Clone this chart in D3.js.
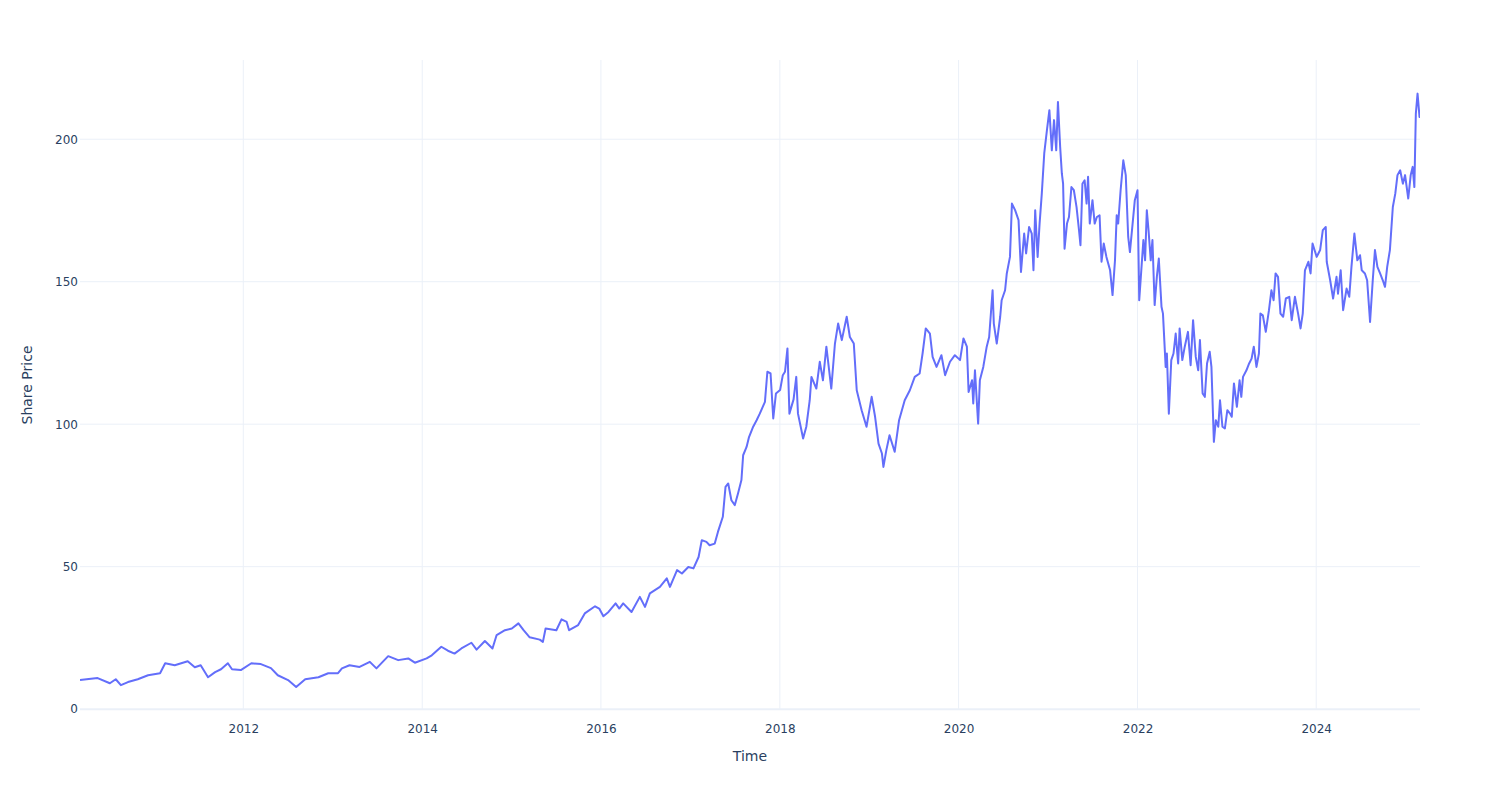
<!DOCTYPE html>
<html>
<head>
<meta charset="utf-8">
<script src="https://cdn.jsdelivr.net/npm/d3@7"></script>
<style>
  html, body { margin: 0; padding: 0; background: #fff; }
  svg { display: block; }
  text { font-family: "DejaVu Sans", "Open Sans", verdana, arial, sans-serif; }
</style>
</head>
<body>
<svg id="chart" width="1500" height="800"></svg>
<script>
// ---- Data ----
const dates = [
"2010-03-05","2010-04-10","2010-05-16","2010-07-05","2010-07-29","2010-08-19","2010-09-17","2010-10-27","2010-12-08",
"2011-01-26","2011-02-16","2011-03-27","2011-05-19","2011-06-17","2011-07-11","2011-08-10","2011-09-08","2011-10-02","2011-10-30","2011-11-16","2011-12-22",
"2012-02-03","2012-03-13","2012-04-23","2012-05-21","2012-07-02","2012-08-04","2012-09-10","2012-11-03","2012-12-13",
"2013-01-22","2013-02-07","2013-03-10","2013-04-20","2013-06-01","2013-06-28","2013-08-15","2013-09-25","2013-11-05","2013-12-02",
"2014-01-19","2014-02-09","2014-03-20","2014-04-16","2014-05-13","2014-06-10","2014-07-21","2014-08-11","2014-09-14","2014-10-15","2014-11-01","2014-12-05",
"2015-01-02","2015-01-29","2015-02-19","2015-03-16","2015-04-26","2015-05-09","2015-05-20","2015-07-03","2015-07-24","2015-08-14","2015-08-24","2015-09-30","2015-10-27","2015-12-08","2015-12-25",
"2016-01-11","2016-02-01","2016-03-01","2016-03-16","2016-04-01","2016-05-05","2016-06-08","2016-06-29","2016-07-19","2016-08-29","2016-09-26","2016-10-09","2016-11-07","2016-11-27","2016-12-23",
"2017-01-13","2017-02-03","2017-02-16","2017-03-07","2017-03-20","2017-04-10","2017-04-23","2017-05-13","2017-05-24","2017-06-04","2017-06-17","2017-07-01","2017-07-14","2017-07-28","2017-08-04","2017-08-18","2017-08-28","2017-09-14","2017-09-28","2017-10-11","2017-11-01","2017-11-11","2017-11-24","2017-12-05","2017-12-16",
"2018-01-02","2018-01-13","2018-01-22","2018-02-01","2018-02-09","2018-02-26","2018-03-09","2018-03-16","2018-04-06","2018-04-19","2018-05-03","2018-05-10","2018-05-30","2018-06-13","2018-06-26","2018-07-10","2018-07-30","2018-08-14","2018-08-27","2018-09-11","2018-10-01","2018-10-14","2018-10-30","2018-11-11","2018-12-01","2018-12-21",
"2019-01-11","2019-01-25","2019-02-08","2019-02-22","2019-02-28","2019-03-12","2019-03-25","2019-04-15","2019-05-03","2019-05-26","2019-06-16","2019-07-06","2019-07-26","2019-08-07","2019-08-20","2019-09-06","2019-09-17","2019-10-03","2019-10-23","2019-11-07","2019-11-27","2019-12-17",
"2020-01-01","2020-01-07","2020-01-21","2020-02-04","2020-02-11","2020-02-25","2020-03-01","2020-03-08","2020-03-21","2020-03-28","2020-04-11","2020-04-25","2020-05-05","2020-05-19","2020-05-24","2020-06-05","2020-06-19","2020-06-25","2020-07-09","2020-07-16","2020-07-29","2020-08-06","2020-08-19","2020-09-02","2020-09-12","2020-09-25","2020-10-03","2020-10-15","2020-10-26","2020-11-02","2020-11-09","2020-11-19","2020-11-27","2020-12-06","2020-12-16","2020-12-27",
"2021-01-06","2021-01-16","2021-01-25","2021-02-03","2021-02-10","2021-02-19","2021-02-26","2021-03-03","2021-03-09","2021-03-19","2021-03-27","2021-04-06","2021-04-16","2021-04-27","2021-05-07","2021-05-13","2021-05-21","2021-05-30","2021-06-07","2021-06-13","2021-06-20","2021-07-01","2021-07-10","2021-07-19","2021-07-30","2021-08-07","2021-08-16","2021-08-27","2021-09-11","2021-09-21","2021-10-01","2021-10-08","2021-10-14","2021-10-24","2021-11-04","2021-11-14","2021-11-24","2021-12-01","2021-12-12","2021-12-21",
"2022-01-01","2022-01-08","2022-01-25","2022-02-01","2022-02-08","2022-02-15","2022-02-24","2022-03-03","2022-03-12","2022-03-21","2022-03-29","2022-04-09","2022-04-15","2022-04-26","2022-05-01","2022-05-09","2022-05-19","2022-05-28","2022-06-06","2022-06-16","2022-06-22","2022-07-03","2022-07-13","2022-07-26","2022-08-06","2022-08-16","2022-08-27","2022-09-06","2022-09-13","2022-09-24","2022-10-03","2022-10-12","2022-10-23","2022-10-30","2022-11-09","2022-11-17","2022-11-27","2022-12-04","2022-12-14","2022-12-24",
"2023-01-03","2023-01-14","2023-01-21","2023-01-30","2023-02-11","2023-02-22","2023-03-01","2023-03-08","2023-03-22","2023-04-02","2023-04-12","2023-04-21","2023-05-02","2023-05-12","2023-05-18","2023-05-28","2023-06-09","2023-06-22","2023-07-02","2023-07-11","2023-07-19","2023-07-29","2023-08-08","2023-08-19","2023-08-30","2023-09-13","2023-09-23","2023-10-06","2023-10-19","2023-10-29","2023-11-07","2023-11-16","2023-11-30","2023-12-09","2023-12-17",
"2024-01-03","2024-01-17","2024-01-28","2024-02-09","2024-02-13","2024-02-27","2024-03-10","2024-03-24","2024-03-30","2024-04-10","2024-04-20","2024-05-04","2024-05-15","2024-05-24","2024-06-05","2024-06-17","2024-06-28","2024-07-05","2024-07-18","2024-07-27","2024-08-08","2024-08-19","2024-08-28","2024-09-07","2024-09-18","2024-09-29","2024-10-08","2024-10-17","2024-10-28","2024-11-09","2024-11-19","2024-11-28","2024-12-09","2024-12-20","2024-12-29",
"2025-01-11","2025-01-21","2025-01-29","2025-02-05","2025-02-11","2025-02-18","2025-02-26","2025-02-28"
];
const prices = [
10.2,10.6,10.9,9.1,10.5,8.4,9.5,10.5,11.9,
12.6,16.1,15.4,16.8,14.7,15.4,11.2,13.0,14.0,16.1,14.0,13.7,
16.1,15.8,14.4,11.9,10.2,7.8,10.5,11.2,12.6,
12.6,14.3,15.4,14.8,16.6,14.3,18.6,17.2,17.8,16.3,
17.8,18.9,21.9,20.5,19.5,21.3,23.3,20.9,23.9,21.3,26.0,27.7,
28.3,30.1,27.7,25.2,24.4,23.6,28.3,27.7,31.5,30.6,27.7,29.5,33.6,36.1,35.3,
32.6,34.1,37.1,35.3,37.1,34.1,39.4,35.9,40.6,42.9,45.9,42.9,48.8,47.6,49.9,
49.4,53.4,59.3,58.7,57.5,58.1,62.2,67.5,78.0,79.2,73.3,71.6,75.7,80.4,89.1,92.0,95.5,99.1,101.4,103.7,107.8,118.4,117.8,102.0,110.8,
112.0,117.2,118.4,126.6,103.7,108.7,116.6,103.7,95.0,99.1,108.4,116.6,112.5,121.9,115.4,127.2,112.5,128.3,135.3,129.5,137.7,130.6,128.3,111.9,104.9,99.1,
109.6,102.6,93.2,89.7,85.0,90.9,96.1,90.3,101.4,108.4,111.9,116.6,117.8,124.8,133.6,131.8,123.6,120.1,124.2,117.2,121.9,124.2,
123.0,122.5,130.1,127.2,111.3,115.4,107.3,118.9,100.2,115.4,120.1,127.2,130.6,147.0,135.3,128.3,137.7,143.5,147.0,152.9,158.7,177.4,175.1,171.6,153.4,166.9,159.9,169.2,166.9,154.0,175.1,158.7,170.4,180.9,195.0,203.2,
210.2,196.1,206.7,196.1,213.1,197.3,187.9,184.4,161.6,170.4,172.7,183.2,182.1,176.2,168.1,162.8,184.4,185.6,177.4,186.8,170.4,178.6,170.4,172.7,173.3,157.0,163.4,158.7,154.0,145.3,157.5,173.3,170.4,182.1,192.6,187.4,165.7,160.4,170.4,178.6,
182.1,143.5,164.6,157.5,175.1,168.1,157.5,164.6,141.8,151.7,158.1,141.2,138.8,120.1,124.8,103.7,122.5,124.8,131.8,121.3,133.6,122.5,127.2,132.4,120.7,136.5,123.6,118.9,129.5,110.8,109.6,121.3,125.4,120.1,93.8,101.4,99.1,108.4,99.1,98.5,
104.9,103.7,102.6,114.3,106.1,115.4,109.6,116.6,118.9,121.3,123.0,127.2,120.1,124.8,138.8,138.2,132.4,140.0,147.0,143.5,152.9,151.7,138.8,137.7,144.1,144.7,136.5,144.7,138.8,133.6,138.8,154.0,157.0,152.9,163.4,
158.7,161.1,168.1,169.2,157.0,150.5,144.1,151.7,145.8,154.0,140.0,147.6,144.7,155.2,166.9,157.5,159.3,154.0,152.9,150.5,135.9,150.5,161.1,155.2,152.9,150.5,148.2,155.2,161.1,176.2,180.9,187.4,189.1,184.4,187.4,
179.2,187.4,190.3,183.2,209.0,216.0,207.8,208.5
];
const yTicks = [0, 50, 100, 150, 200];
const xTickYears = [2012, 2014, 2016, 2018, 2020, 2022, 2024];
const xTitle = "Time";
const yTitle = "Share Price";

// ---- Layout ----
const W = 1500, H = 800;
const margin = { left: 80, right: 80, top: 60, bottom: 90 };
const plotL = margin.left, plotR = W - margin.right;
const plotT = margin.top, plotB = H - margin.bottom;

const parse = d3.utcParse("%Y-%m-%d");
const data = dates.map((d, i) => ({ date: parse(d), value: prices[i] }));

const x = d3.scaleUtc()
  .domain(d3.extent(data, d => d.date))
  .range([plotL, plotR]);
const y = d3.scaleLinear()
  .domain([-0.3, 227.8])
  .range([plotB, plotT]);

const svg = d3.select("#chart");
const fontColor = "#2a3f5f";
const gridColor = "#EBF0F8";

// Grid lines
const xTickDates = xTickYears.map(yr => new Date(Date.UTC(yr, 0, 1)));
svg.append("g").selectAll("line.xg").data(xTickDates).join("line")
  .attr("x1", d => x(d)).attr("x2", d => x(d))
  .attr("y1", plotT).attr("y2", plotB)
  .attr("stroke", gridColor).attr("stroke-width", 1);

svg.append("g").selectAll("line.yg").data(yTicks.filter(t => t !== 0)).join("line")
  .attr("x1", plotL).attr("x2", plotR)
  .attr("y1", d => y(d)).attr("y2", d => y(d))
  .attr("stroke", gridColor).attr("stroke-width", 1);

// Zero line
svg.append("line")
  .attr("x1", plotL).attr("x2", plotR)
  .attr("y1", y(0)).attr("y2", y(0))
  .attr("stroke", gridColor).attr("stroke-width", 2);

// Axes (labels only, using d3 axes)
const xAxis = d3.axisBottom(x).tickValues(xTickDates).tickFormat(d3.utcFormat("%Y")).tickSize(0).tickPadding(14);
const gx = svg.append("g").attr("transform", `translate(0,${plotB})`).call(xAxis);
gx.select(".domain").remove();
gx.selectAll("text").attr("fill", fontColor).attr("font-size", 12)
  .style("font-family", '"DejaVu Sans", "Open Sans", verdana, arial, sans-serif');

const yAxis = d3.axisLeft(y).tickValues(yTicks).tickSize(0).tickPadding(2);
const gy = svg.append("g").attr("transform", `translate(${plotL},0)`).call(yAxis);
gy.select(".domain").remove();
gy.selectAll("text").attr("fill", fontColor).attr("font-size", 12)
  .style("font-family", '"DejaVu Sans", "Open Sans", verdana, arial, sans-serif');

// Line
const line = d3.line().x(d => x(d.date)).y(d => y(d.value));
svg.append("defs").append("clipPath").attr("id", "clip")
  .append("rect").attr("x", plotL).attr("y", plotT).attr("width", plotR - plotL).attr("height", plotB - plotT);
svg.append("path")
  .datum(data)
  .attr("clip-path", "url(#clip)")
  .attr("fill", "none")
  .attr("stroke", "#636efa")
  .attr("stroke-width", 2)
  .attr("stroke-linejoin", "round")
  .attr("d", line);

// Axis titles
svg.append("text")
  .attr("x", (plotL + plotR) / 2).attr("y", 761)
  .attr("text-anchor", "middle")
  .attr("fill", fontColor).attr("font-size", 14)
  .text(xTitle);

svg.append("text")
  .attr("transform", `translate(32,${(plotT + plotB) / 2}) rotate(-90)`)
  .attr("text-anchor", "middle")
  .attr("fill", fontColor).attr("font-size", 14)
  .text(yTitle);
</script>
</body>
</html>
